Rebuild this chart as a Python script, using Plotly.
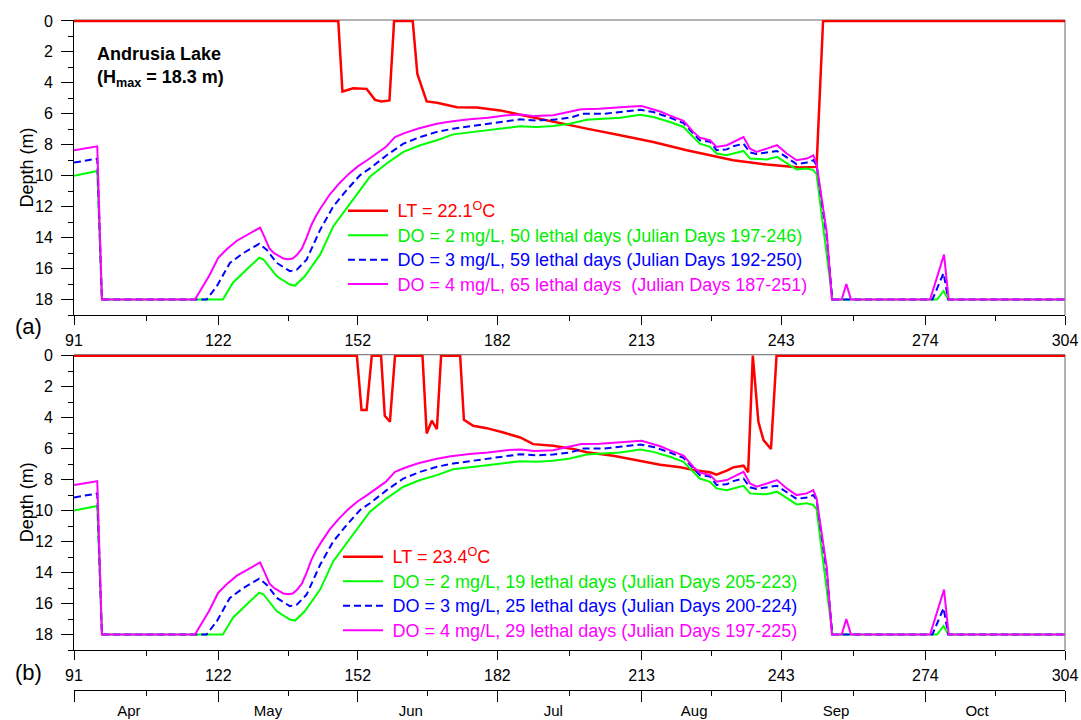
import plotly.graph_objects as go

# ---------------- data (Julian day, depth in m) ----------------
do2_days = [91, 96, 97, 123, 125.2, 128.1, 130.8, 131.7, 134.6, 137.4, 138.5, 140.6, 143.9, 146.7,
            149.6, 152.5, 154.6, 158.2, 161.8, 165.4, 169.0, 172.5, 179.7, 186.9, 190.4, 194.0,
            197.6, 201.2, 208.4, 212.7, 215.5, 219.1, 222.0, 224.1, 225.5, 227.7, 229.1, 231.3,
            234.9, 236.3, 239.9, 242.1, 244.2, 246.3, 248.5, 249.9, 250.6, 252.8, 254, 276.5,
            277.9, 278.9, 304]
do2_depth = [10.0, 9.7, 18.0, 18.0, 16.9, 16.07, 15.3, 15.4, 16.5, 17.03, 17.1, 16.5, 15.1, 13.28,
             12.1, 10.93, 10.07, 9.21, 8.46, 8.03, 7.71, 7.33, 7.07, 6.81, 6.85, 6.79,
             6.64, 6.38, 6.25, 6.06, 6.21, 6.53, 6.85, 7.5, 7.93, 8.14, 8.57, 8.68,
             8.4, 8.89, 8.95, 8.78, 9.21, 9.6, 9.53, 9.64, 9.9, 15.0, 18.0, 18.0,
             17.45, 18.0, 18.0]

do3_days = [91, 96, 97, 119.5, 121.7, 124.5, 127.4, 130.8, 132.4, 134.6, 137.4, 138.9, 141.0,
            143.9, 146.7, 149.6, 152.5, 154.6, 158.2, 161.8, 165.4, 169.0, 172.5, 179.7, 186.9,
            190.4, 194.0, 197.6, 200.5, 204.8, 208.4, 212.7, 215.5, 219.1, 222.0, 224.1, 225.5,
            227.7, 229.1, 231.3, 232.7, 234.9, 236.3, 237.7, 239.9, 242.1, 244.2, 246.3, 248.5,
            249.9, 250.6, 252.8, 254, 275.5, 277.9, 278.9, 304]
do3_depth = [9.15, 8.9, 18.0, 18.0, 17.14, 15.64, 15.0, 14.4, 14.78, 15.64, 16.17, 16.07, 15.42,
             13.5, 12.0, 10.93, 9.96, 9.53, 8.68, 7.93, 7.5, 7.17, 6.96, 6.64, 6.36,
             6.43, 6.38, 6.25, 6.0, 6.0, 5.89, 5.74, 5.89, 6.25, 6.6, 7.28, 7.71,
             7.8, 8.35, 8.3, 8.1, 7.93, 8.5, 8.6, 8.5, 8.4, 8.82, 9.25, 9.15,
             9.0, 9.3, 14.0, 18.0, 18.0, 16.3, 18.0, 18.0]

do4_days = [91, 96, 97, 117, 119, 120, 122, 124, 126, 128, 130, 131, 132, 133, 134, 135, 136, 137,
            138, 139, 140, 141, 142, 143, 144, 146, 148, 150, 152, 154, 156, 158, 160, 162, 165,
            169, 172, 176, 180, 184, 187, 190, 194, 197, 200, 204, 208, 210, 213, 215, 217, 219,
            222, 224.1, 225.5, 227.7, 229.1, 231.3, 232.7, 234.9, 236.3, 237.7, 239.9, 242.1,
            244.2, 246.3, 248.5, 249.9, 250.6, 252.8, 253.9, 256, 257, 258, 275, 278, 279, 304]
do4_depth = [8.35, 8.1, 18.0, 18.0, 17.0, 16.5, 15.3, 14.7, 14.2, 13.85, 13.5, 13.35, 14.0, 14.7,
             15.0, 15.2, 15.35, 15.4, 15.35, 15.1, 14.7, 14.0, 13.2, 12.6, 12.1, 11.2, 10.5, 9.9,
             9.4, 9.0, 8.6, 8.15, 7.5, 7.25, 6.95, 6.65, 6.5, 6.35, 6.25, 6.1, 6.05, 6.15, 6.1,
             5.9, 5.7, 5.68, 5.57, 5.55, 5.5, 5.65, 5.85, 6.1, 6.45, 7.17, 7.54, 7.71, 8.14,
             8.03, 7.82, 7.5, 8.25, 8.46, 8.25, 8.03, 8.57, 9.0, 8.89, 8.68, 9.21, 13.7, 18.0,
             18.0, 17.0, 18.0, 18.0, 15.1, 18.0, 18.0]

lt_a_days = [91, 147.8, 148.7, 151.0, 153.9, 155.7, 157.1, 158.8, 159.8, 163.8, 164.8, 166.8,
             169.0, 171.1, 173.3, 177.6, 182.6, 186.9, 194.0, 201.2, 208.4, 215.5, 222.7, 229.8,
             232.7, 239.9, 247.0, 250.6, 252.0, 304]
lt_a_depth = [0, 0, 4.56, 4.35, 4.39, 5.1, 5.2, 5.14, 0, 0, 3.43, 5.2,
              5.29, 5.42, 5.57, 5.6, 5.78, 6.06, 6.53, 6.96, 7.39, 7.82, 8.35, 8.8,
              9.0, 9.28, 9.47, 9.43, 0, 0]

lt_b_days = [91, 151.8, 152.8, 153.9, 155.0, 157.0, 157.8, 158.9, 160.0, 165.9, 166.8, 167.9,
             169.0, 169.9, 174.0, 174.8, 176.8, 179.7, 183.3, 186.9, 189.7, 194.0, 198.3, 201.2,
             206.9, 211.9, 217.0, 221.3, 224.8, 227.7, 229.1, 231.3, 232.7, 234.9, 235.9, 236.9,
             238.1, 239.2, 240.8, 242.0, 304]
lt_b_depth = [0, 0, 3.5, 3.5, 0, 0, 3.88, 4.27, 0, 0, 5.02, 4.2,
              4.74, 0, 0, 4.14, 4.53, 4.68, 4.96, 5.28, 5.71, 5.81, 6.03, 6.24,
              6.46, 6.74, 7.04, 7.21, 7.42, 7.53, 7.68, 7.42, 7.21, 7.1, 7.53, 0,
              4.27, 5.45, 6.03, 0, 0]

day_ticks = [91, 122, 152, 182, 213, 243, 274, 304]
day_minor = [106.5, 137, 167, 197.5, 228, 258.5, 289]
month_pos = [102.8, 132.7, 163.4, 194.0, 224.3, 254.8, 285.1]
month_labels = ["Apr", "May", "Jun", "Jul", "Aug", "Sep", "Oct"]
depth_ticks = [0, 2, 4, 6, 8, 10, 12, 14, 16, 18]

NB = "\u00a0"
SP = "font-size:18px"
names_a = [
    NB + f"<span style='color:#FF0000;{SP}'>LT = 22.1<sup>O</sup>C</span>",
    NB + f"<span style='color:#00EE00;{SP}'>DO = 2 mg/L, 50 lethal days (Julian Days 197-246)</span>",
    NB + f"<span style='color:#0000FF;{SP}'>DO = 3 mg/L, 59 lethal days (Julian Days 192-250)</span>",
    NB + f"<span style='color:#FF00FF;{SP}'>DO = 4 mg/L, 65 lethal days  (Julian Days 187-251)</span>",
]
names_b = [
    NB + f"<span style='color:#FF0000;{SP}'>LT = 23.4<sup>O</sup>C</span>",
    NB + f"<span style='color:#00EE00;{SP}'>DO = 2 mg/L, 19 lethal days (Julian Days 205-223)</span>",
    NB + f"<span style='color:#0000FF;{SP}'>DO = 3 mg/L, 25 lethal days (Julian Days 200-224)</span>",
    NB + f"<span style='color:#FF00FF;{SP}'>DO = 4 mg/L, 29 lethal days (Julian Days 197-225)</span>",
]

FONT = "Arial, 'Liberation Sans', sans-serif"
RED, GREEN, BLUE, MAG = "#FF0000", "#00FF00", "#0000FF", "#FF00FF"

fig = go.Figure()


def add_panel(lt_days, lt_depth, xa, ya, leg, names):
    common = dict(mode="lines", xaxis=xa, yaxis=ya, legend=leg, hoverinfo="skip")
    fig.add_trace(go.Scatter(x=lt_days, y=lt_depth, name=names[0],
                             line=dict(color=RED, width=2.5), **common))
    fig.add_trace(go.Scatter(x=do2_days, y=do2_depth, name=names[1],
                             line=dict(color=GREEN, width=2), **common))
    fig.add_trace(go.Scatter(x=do3_days, y=do3_depth, name=names[2],
                             line=dict(color=BLUE, width=2, dash="7px,4px"), **common))
    fig.add_trace(go.Scatter(x=do4_days, y=do4_depth, name=names[3],
                             line=dict(color=MAG, width=2), **common))


add_panel(lt_a_days, lt_a_depth, "x", "y", "legend", names_a)
add_panel(lt_b_days, lt_b_depth, "x2", "y2", "legend2", names_b)
fig.add_trace(go.Scatter(x=[], y=[], xaxis="x3", yaxis="y3", showlegend=False))
fig.add_trace(go.Scatter(x=[], y=[], xaxis="x4", yaxis="y3", showlegend=False))

xcommon = dict(range=[91, 304], tickmode="array", tickvals=day_ticks, ticks="outside",
               ticklen=9, tickwidth=1, tickcolor="black", showline=True, linecolor="black",
               linewidth=1, showgrid=False, zeroline=False, automargin=False,
               ticklabelstandoff=2,
               tickfont=dict(size=16, family=FONT, color="black"),
               minor=dict(tickmode="array", tickvals=day_minor, ticks="outside", ticklen=5,
                          tickwidth=1, tickcolor="black"))
ycommon = dict(range=[19, -0.06], tickmode="array", tickvals=depth_ticks, ticks="outside",
               ticklen=12, tickwidth=1, tickcolor="black", showline=True, linecolor="black",
               linewidth=1, showgrid=False, zeroline=False, ticklabelstandoff=5,
               automargin=False,
               tickfont=dict(size=16, family=FONT, color="black"),
               minor=dict(dtick=1, tick0=0, ticks="outside", ticklen=5, tickwidth=1,
                          tickcolor="black"))

legcommon = dict(xanchor="left", yanchor="top", bgcolor="rgba(0,0,0,0)",
                 font=dict(size=16.5, family=FONT), itemwidth=40, traceorder="normal",
                 borderwidth=0)

fig.update_layout(
    width=1081, height=720,
    margin=dict(l=74, r=16, t=20, b=30, autoexpand=False),
    paper_bgcolor="white", plot_bgcolor="white",
    font=dict(family=FONT, color="black"),
    xaxis=dict(anchor="y", domain=[0, 1], **xcommon),
    yaxis=dict(anchor="x", domain=[0.5597, 1.0], **ycommon),
    xaxis2=dict(anchor="y2", domain=[0, 1], **xcommon),
    yaxis2=dict(anchor="x2", domain=[0.0597, 0.5004], **ycommon),
    xaxis3=dict(anchor="y3", domain=[0, 1], range=[91, 304], tickmode="array",
                tickvals=day_ticks, showticklabels=False, ticks="outside", ticklen=11,
                tickwidth=1, tickcolor="black", showline=True, linecolor="black", linewidth=1,
                showgrid=False, zeroline=False, automargin=False,
                minor=dict(tickmode="array", tickvals=day_minor, ticks="outside", ticklen=5,
                           tickwidth=1, tickcolor="black")),
    xaxis4=dict(anchor="y3", overlaying="x3", domain=[0, 1], range=[91, 304], tickmode="array",
                tickvals=month_pos, ticktext=month_labels, ticks="", showline=False,
                showgrid=False, zeroline=False, automargin=False, ticklabelstandoff=10,
                tickfont=dict(size=15, family=FONT, color="black")),
    yaxis3=dict(anchor="x3", domain=[0, 0.01], visible=False, range=[0, 1], automargin=False),
    legend=dict(x=0.2714, y=0.741, **legcommon),
    legend2=dict(x=0.2664, y=0.2245, **legcommon),
    showlegend=True,
)

# top / right frame lines (grey)
for xd, yd in (("x domain", "y domain"), ("x2 domain", "y2 domain")):
    fig.add_shape(type="line", xref=xd, yref=yd, x0=0, x1=1, y0=1, y1=1,
                  line=dict(color="#666666", width=1), layer="below")
    fig.add_shape(type="line", xref=xd, yref=yd, x0=1, x1=1, y0=0, y1=1,
                  line=dict(color="#666666", width=1), layer="below")

# y-axis titles
for yd in ("y domain", "y2 domain"):
    fig.add_annotation(xref="paper", yref=yd, x=(27 - 74) / 991, y=0.5, xanchor="center",
                       yanchor="middle", showarrow=False, text="Depth (m)", textangle=-90,
                       font=dict(size=18, family=FONT, color="black"))

fig.add_annotation(xref="x domain", yref="y domain", x=0.0212, y=0.925, xanchor="left",
                   yanchor="top", showarrow=False, align="left",
                   text="<b>Andrusia Lake<br>(H<sub>max</sub> = 18.3 m)</b>",
                   font=dict(size=18, family=FONT, color="black"))
fig.add_annotation(xref="paper", yref="paper", x=-0.0464, y=0.5418, xanchor="center",
                   yanchor="middle", showarrow=False, text="(a)",
                   font=dict(size=22, family=FONT, color="black"))
fig.add_annotation(xref="paper", yref="paper", x=-0.0464, y=0.0254, xanchor="center",
                   yanchor="middle", showarrow=False, text="(b)",
                   font=dict(size=22, family=FONT, color="black"))

fig.write_html("out.html")
